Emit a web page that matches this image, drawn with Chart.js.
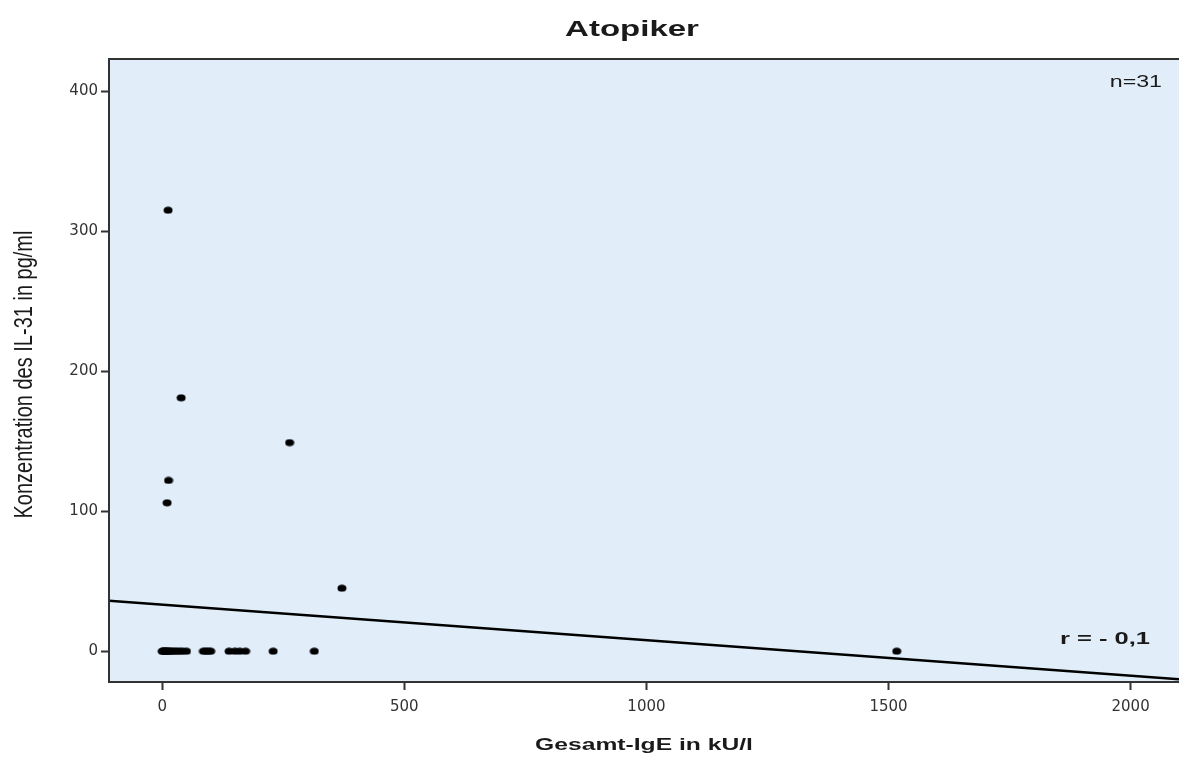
<!DOCTYPE html>
<html>
<head>
<meta charset="utf-8">
<script src="https://cdn.jsdelivr.net/npm/chart.js@4"></script>
<style>
    html, body { margin: 0; padding: 0; background: #fff; overflow: hidden; }
    canvas { display: block; }
</style>
</head>
<body>
<canvas id="grafico" width="1179" height="757"></canvas>
<script>
// Gesamt-IgE (kU/l) und IL-31 (pg/ml)
const gesamtIgE = [0, 2, 4, 6, 8, 10, 13, 16, 20, 25, 30, 36, 42, 50,
    85, 90, 95, 100, 138, 150, 160, 172, 229, 314, 1517,
    12, 39, 263, 13, 10, 371]
const il31 = [0, 0, 0, 0, 0, 0, 0, 0, 0, 0, 0, 0, 0, 0,
    0, 0, 0, 0, 0, 0, 0, 0, 0, 0, 0,
    315, 181, 149, 122, 106, 45]

const linieX = [-110, 2100]
const linieY = [36.0, -20.1]

const xTicks = [0, 500, 1000, 1500, 2000]
const yTicks = [0, 100, 200, 300, 400]

const titel = 'Atopiker'
const xTitel = 'Gesamt-IgE in kU/l'
const yTitel = 'Konzentration des IL-31 in pg/ml'
const nText = 'n=31'
const rText = 'r = - 0,1'

function punktBild() {
    const c = document.createElement('canvas')
    c.width = 10
    c.height = 8
    const g = c.getContext('2d')
    g.fillStyle = '#000'
    g.beginPath()
    g.ellipse(5, 4, 4.5, 3.6, 0, 0, Math.PI * 2)
    g.fill()
    return c
}

// das Original ist horizontal gestreckt, deshalb breiter Text
function breitText(ctx, text, x, y, font, align, sx) {
    ctx.save()
    ctx.font = font
    ctx.fillStyle = '#1a1a1a'
    ctx.textBaseline = 'middle'
    ctx.textAlign = align
    ctx.translate(x, y)
    ctx.scale(sx, 1)
    ctx.fillText(text, 0, 0)
    ctx.restore()
}

const rahmen = {
    id: 'rahmen',
    beforeDraw(chart) {
        const { ctx, chartArea: a } = chart
        ctx.save()
        ctx.fillStyle = '#e1eefa'
        ctx.fillRect(a.left, a.top, a.right - a.left, a.bottom - a.top)
        ctx.restore()
    },
    afterDraw(chart) {
        const { ctx, chartArea: a } = chart
        ctx.save()
        ctx.strokeStyle = '#333'
        ctx.lineWidth = 2
        ctx.beginPath()
        ctx.moveTo(a.right, a.top)
        ctx.lineTo(a.left, a.top)
        ctx.lineTo(a.left, a.bottom)
        ctx.lineTo(a.right, a.bottom)
        ctx.stroke()
        ctx.restore()

        const mitte = (a.left + a.right) / 2
        breitText(ctx, titel, mitte - 12, 30, 'bold 22px "Liberation Sans"', 'center', 1.5)
        breitText(ctx, nText, a.right - 17, 83, '16px "Liberation Sans"', 'right', 1.45)
        breitText(ctx, rText, a.right - 29, 639, 'bold 17px "Liberation Sans"', 'right', 1.5)
        breitText(ctx, xTitel, mitte, 745, 'bold 17px "Liberation Sans"', 'center', 1.45)

        ctx.save()
        ctx.font = '20px "Liberation Sans"'
        ctx.fillStyle = '#1a1a1a'
        ctx.textAlign = 'center'
        ctx.textBaseline = 'middle'
        ctx.translate(25, (a.top + a.bottom) / 2 + 4)
        ctx.rotate(-Math.PI / 2)
        ctx.scale(1, 1.3)
        ctx.fillText(yTitel, 0, 0)
        ctx.restore()
    }
}

const achsenGitter = {
    display: true,
    drawOnChartArea: false,
    drawTicks: true,
    tickLength: 8,
    tickColor: '#333',
    tickWidth: 2
}

const grafico = new Chart(document.getElementById('grafico'), {
    type: 'scatter',
    data: {
        datasets: [{
            label: 'Messwerte',
            data: gesamtIgE.map((x, i) => ({ x: x, y: il31[i] })),
            pointStyle: punktBild(),
            pointRadius: 4,
            pointHoverRadius: 4
        }, {
            type: 'line',
            label: 'Anpassungslinie',
            data: linieX.map((x, i) => ({ x: x, y: linieY[i] })),
            borderColor: '#000',
            borderWidth: 2.5,
            pointRadius: 0,
            fill: false
        }]
    },
    options: {
        responsive: false,
        animation: false,
        layout: {
            autoPadding: false,
            padding: { top: 59, right: 0, bottom: 0, left: 0 }
        },
        plugins: {
            legend: { display: false },
            tooltip: { enabled: false },
            title: { display: false }
        },
        scales: {
            x: {
                type: 'linear',
                min: -110,
                max: 2100,
                afterBuildTicks: s => { s.ticks = xTicks.map(v => ({ value: v })) },
                afterFit: s => {
                    s.height = 75
                    s.paddingLeft = 0
                    s.paddingRight = 0
                },
                grid: achsenGitter,
                border: { display: false },
                ticks: {
                    autoSkip: false,
                    maxRotation: 0,
                    padding: 8,
                    color: '#333',
                    font: { family: 'DejaVu Sans', size: 15 },
                    callback: v => String(v)
                }
            },
            y: {
                type: 'linear',
                min: -22,
                max: 423,
                afterBuildTicks: s => { s.ticks = yTicks.map(v => ({ value: v })) },
                afterFit: s => {
                    s.width = 109
                    s.paddingTop = 0
                    s.paddingBottom = 0
                },
                grid: achsenGitter,
                border: { display: false },
                ticks: {
                    autoSkip: false,
                    padding: 3,
                    color: '#333',
                    font: { family: 'DejaVu Sans', size: 15 },
                    callback: v => String(v)
                }
            }
        }
    },
    plugins: [rahmen]
})
</script>
</body>
</html>
